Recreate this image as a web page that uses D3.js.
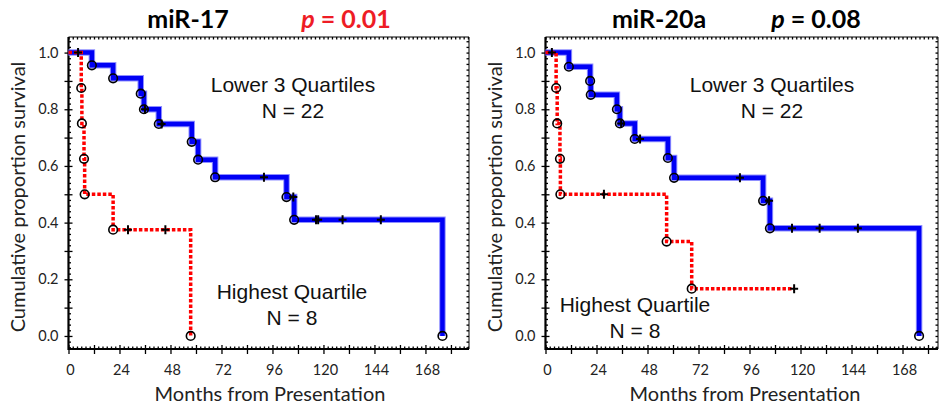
<!DOCTYPE html>
<html>
<head>
<meta charset="utf-8">
<script src="https://cdn.jsdelivr.net/npm/d3@7"></script>
<style>
  body { margin: 0; background: #fff; }
  svg { display: block; }
</style>
</head>
<body>
<svg id="chart" width="940" height="408"></svg>
<script>
// tick labels
const xTickLabels = [0, 24, 48, 72, 96, 120, 144, 168];
const yTickLabels = ['0.0', '0.2', '0.4', '0.6', '0.8', '1.0'];

// miR-17, lower 3 quartiles (N = 22)
const mir17LowTimes = [0, 11, 21, 34, 35.5, 42.5, 58, 61, 69, 102.6, 106.2, 176];
const mir17LowSurv = [1, 0.955, 0.909, 0.855, 0.8, 0.748, 0.685, 0.622, 0.56, 0.49, 0.41, 0];
const mir17LowCensored = [4.5, 36, 43.8, 92, 105.8, 116.5, 117.5, 129, 147];

// miR-17, highest quartile (N = 8)
const mir17HighTimes = [0, 6, 6.3, 7.3, 7.6, 21, 57.5];
const mir17HighSurv = [1, 0.875, 0.75, 0.625, 0.5, 0.375, 0];
const mir17HighCensored = [28, 45.6];

// miR-20a, lower 3 quartiles (N = 22)
const mir20aLowTimes = [0, 11, 21, 21.3, 33.6, 35, 42, 57.6, 60.5, 102.4, 105.6, 175.8];
const mir20aLowSurv = [1, 0.95, 0.9, 0.851, 0.8, 0.75, 0.695, 0.628, 0.558, 0.477, 0.38, 0];
const mir20aLowCensored = [3, 35.6, 44.5, 91.5, 105.2, 116, 129, 147];

// miR-20a, highest quartile (N = 8)
const mir20aHighTimes = [0, 5, 5.5, 6.8, 7, 57, 68.8];
const mir20aHighSurv = [1, 0.875, 0.75, 0.625, 0.5, 0.333, 0.167];
const mir20aHighCensored = [27.5, 117];

const panels = [
  {
    name: 'miR-17', p: '0.01', pColor: '#ee1c25',
    left: 68.5, right: 469, xMax: 188.5,
    titleX: 188, pX: 346, yTitleX: 19, xTitleX: 270,
    low: { times: mir17LowTimes, surv: mir17LowSurv, cens: mir17LowCensored, end: 176 },
    high: { times: mir17HighTimes, surv: mir17HighSurv, cens: mir17HighCensored, end: 57.5 },
    lowLabel: [293, 92], highLabel: [292, 299]
  },
  {
    name: 'miR-20a', p: '0.08', pColor: '#000',
    left: 545.5, right: 938, xMax: 184.7,
    titleX: 659, pX: 816, yTitleX: 496, xTitleX: 745,
    low: { times: mir20aLowTimes, surv: mir20aLowSurv, cens: mir20aLowCensored, end: 175.8 },
    high: { times: mir20aHighTimes, surv: mir20aHighSurv, cens: mir20aHighCensored, end: 117 },
    lowLabel: [772, 92], highLabel: [635, 312]
  }
];

const plotTop = 37, plotBottom = 349;
const svg = d3.select('#chart');

const survAt = (times, surv, t) => {
  let s = 1;
  times.forEach((tt, i) => { if (tt <= t) s = surv[i]; });
  return s;
};

function drawPanel(cfg) {
  const x = d3.scaleLinear().domain([0, cfg.xMax]).range([cfg.left, cfg.right]);
  const y = d3.scaleLinear().domain([-0.046, 1.055]).range([plotBottom, plotTop]);
  const g = svg.append('g');

  const yMajor = d3.range(0, 11).map((d) => d / 10);
  const yMinor = d3.range(-2, 53).map((d) => d / 50).filter((d) => Math.round(d * 50) % 5 !== 0);
  const xMajor = d3.range(0, 181, 12);
  const xMinor = d3.range(2, cfg.xMax, 2).filter((d) => d % 12 !== 0);

  // left axis: outward + inward major ticks, labels on every other
  g.append('g')
    .attr('transform', `translate(${cfg.left},0)`)
    .call(d3.axisLeft(y).tickValues(yMajor).tickSize(4).tickPadding(6)
      .tickFormat((d) => (yTickLabels.includes(d.toFixed(1)) && Math.round(d * 10) % 2 === 0 ? d.toFixed(1) : '')))
    .call((a) => a.select('.domain').remove())
    .call((a) => a.selectAll('text').attr('font-family', 'Lato, sans-serif').attr('font-size', 14.5).attr('fill', '#222'));
  g.append('g')
    .attr('transform', `translate(${cfg.left},0)`)
    .call(d3.axisLeft(y).tickValues(yMajor).tickSize(-4).tickFormat(''))
    .call((a) => a.select('.domain').remove());
  g.append('g')
    .attr('transform', `translate(${cfg.left},0)`)
    .call(d3.axisLeft(y).tickValues(yMinor).tickSize(-2.5).tickFormat(''))
    .call((a) => a.select('.domain').remove());
  // right edge minor ticks
  g.append('g')
    .attr('transform', `translate(${cfg.right},0)`)
    .call(d3.axisRight(y).tickValues(yMinor.concat(yMajor)).tickSize(-2.5).tickFormat(''))
    .call((a) => a.select('.domain').remove());

  // bottom axis
  g.append('g')
    .attr('transform', `translate(0,${plotBottom})`)
    .call(d3.axisBottom(x).tickValues(xTickLabels).tickSize(0).tickPadding(16))
    .call((a) => a.select('.domain').remove())
    .call((a) => a.selectAll('text').attr('font-family', 'Lato, sans-serif').attr('font-size', 14.5).attr('fill', '#222').attr('dx', 1.5));
  g.append('g')
    .attr('transform', `translate(0,${plotBottom})`)
    .call(d3.axisBottom(x).tickValues(xMajor).tickSize(5).tickFormat(''))
    .call((a) => a.select('.domain').remove());
  g.append('g')
    .attr('transform', `translate(0,${plotBottom})`)
    .call(d3.axisBottom(x).tickValues(xMajor).tickSize(-4).tickFormat(''))
    .call((a) => a.select('.domain').remove());
  g.append('g')
    .attr('transform', `translate(0,${plotBottom})`)
    .call(d3.axisBottom(x).tickValues(xMinor).tickSize(-2.5).tickFormat(''))
    .call((a) => a.select('.domain').remove());
  // top edge minor ticks
  g.append('g')
    .attr('transform', `translate(0,${plotTop})`)
    .call(d3.axisTop(x).tickValues(xMinor.concat(xMajor)).tickSize(-2.5).tickFormat(''))
    .call((a) => a.select('.domain').remove());

  g.selectAll('.tick line').attr('stroke', '#000').attr('stroke-width', 1.3);

  // frame
  g.append('path')
    .attr('d', `M${cfg.left},${plotTop}H${cfg.right}V${plotBottom}`)
    .attr('fill', 'none').attr('stroke', '#000').attr('stroke-width', 1);
  g.append('path')
    .attr('d', `M${cfg.left},${plotTop}V${plotBottom}H${cfg.right}`)
    .attr('fill', 'none').attr('stroke', '#000').attr('stroke-width', 2.2);

  const line = d3.line().curve(d3.curveStepAfter).x((d) => x(d[0])).y((d) => y(d[1]));
  const stepPoints = (s) => {
    const pts = s.times.map((t, i) => [t, s.surv[i]]);
    if (s.end > s.times[s.times.length - 1]) pts.push([s.end, s.surv[s.surv.length - 1]]);
    return pts;
  };

  // lower 3 quartiles: solid blue
  g.append('path')
    .datum(stepPoints(cfg.low))
    .attr('d', line)
    .attr('fill', 'none').attr('stroke', '#8f8fff').attr('stroke-width', 6.5);
  g.append('path')
    .datum(stepPoints(cfg.low))
    .attr('d', line)
    .attr('fill', 'none').attr('stroke', '#0000f5').attr('stroke-width', 4.5);

  // highest quartile: dotted red
  g.append('path')
    .datum(stepPoints(cfg.high))
    .attr('d', line)
    .attr('fill', 'none').attr('stroke', '#f00').attr('stroke-width', 3.5)
    .attr('stroke-dasharray', '3.5,2');

  // event circles
  [cfg.low, cfg.high].forEach((s) => {
    g.append('g')
      .selectAll('circle')
      .data(s.times.slice(1).map((t, i) => [t, s.surv[i + 1]]))
      .join('circle')
      .attr('cx', (d) => x(d[0]))
      .attr('cy', (d) => y(d[1]))
      .attr('r', 4.3)
      .attr('fill', 'none')
      .attr('stroke', '#000')
      .attr('stroke-width', 1.6);
  });

  // censored marks
  [cfg.low, cfg.high].forEach((s) => {
    g.append('g')
      .selectAll('path')
      .data(s.cens.map((t) => [t, survAt(s.times, s.surv, t)]))
      .join('path')
      .attr('transform', (d) => `translate(${x(d[0])},${y(d[1])})`)
      .attr('d', 'M-4,0H4M0,-4.5V4.5')
      .attr('stroke', '#000')
      .attr('stroke-width', 2);
  });

  // group annotations
  const ann = (pos, lines) => {
    g.append('text')
      .attr('x', pos[0]).attr('y', pos[1])
      .attr('text-anchor', 'middle')
      .attr('font-family', 'Arial, "Liberation Sans", sans-serif')
      .attr('font-size', 21)
      .attr('fill', '#111')
      .selectAll('tspan')
      .data(lines)
      .join('tspan')
      .attr('x', pos[0])
      .attr('dy', (d, i) => (i ? 26 : 0))
      .text((d) => d);
  };
  ann(cfg.lowLabel, ['Lower 3 Quartiles', 'N = 22']);
  ann(cfg.highLabel, ['Highest Quartile', 'N = 8']);

  // titles
  g.append('text')
    .attr('x', cfg.titleX).attr('y', 28)
    .attr('text-anchor', 'middle')
    .attr('font-family', 'Lato, sans-serif').attr('font-weight', 'bold')
    .attr('font-size', 25).attr('fill', '#000')
    .text(cfg.name);
  const pt = g.append('text')
    .attr('x', cfg.pX).attr('y', 28)
    .attr('text-anchor', 'middle')
    .attr('font-family', 'Lato, sans-serif').attr('font-weight', 'bold')
    .attr('font-size', 25).attr('fill', cfg.pColor);
  pt.append('tspan').attr('font-style', 'italic').text('p');
  pt.append('tspan').text(` = ${cfg.p}`);

  // axis titles
  g.append('text')
    .attr('transform', `translate(${cfg.yTitleX + 6},${(plotTop + plotBottom) / 2 + 4}) rotate(-90)`)
    .attr('text-anchor', 'middle')
    .attr('font-family', 'Lato, sans-serif').attr('font-size', 20).attr('fill', '#222')
    .text('Cumulative proportion survival');
  g.append('text')
    .attr('x', cfg.xTitleX).attr('y', 401)
    .attr('text-anchor', 'middle')
    .attr('font-family', 'Lato, sans-serif').attr('font-size', 20).attr('fill', '#222')
    .text('Months from Presentation');
}

panels.forEach(drawPanel);
</script>
</body>
</html>
